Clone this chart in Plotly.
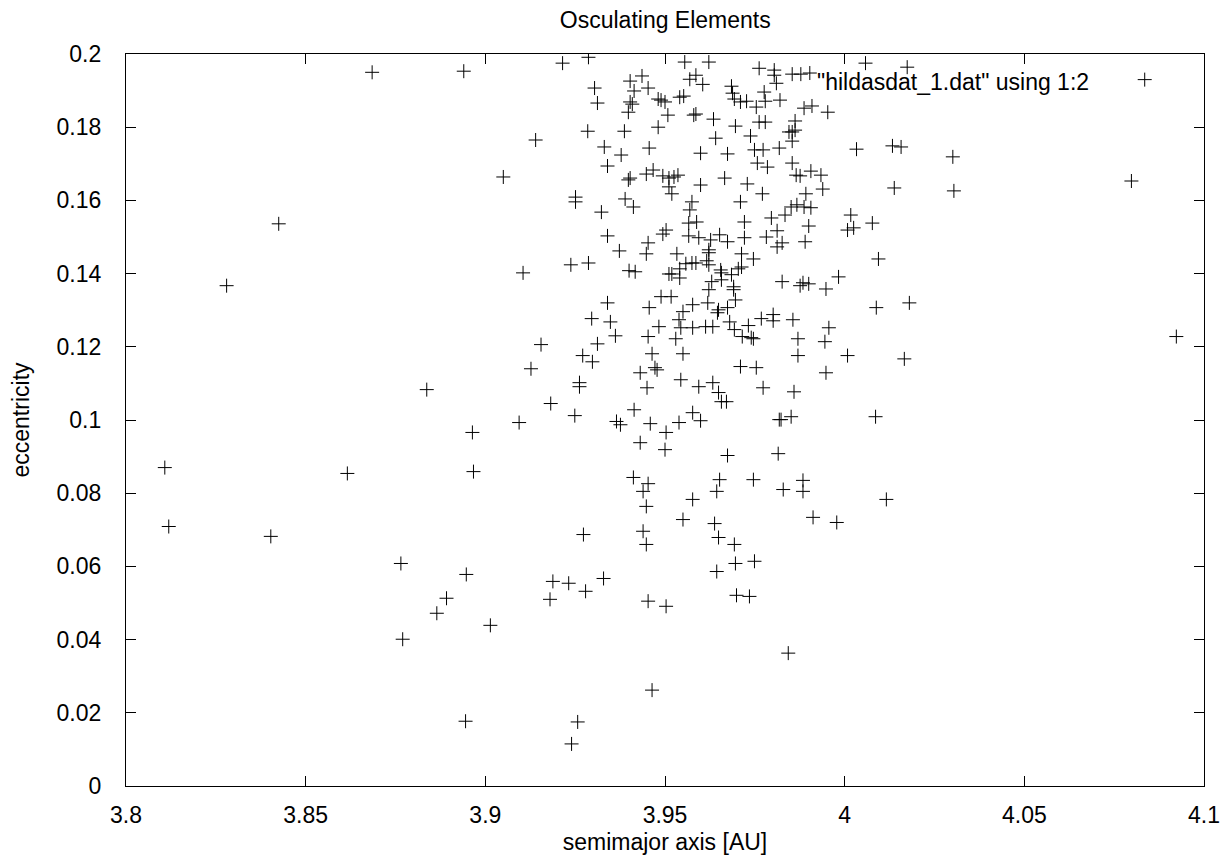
import plotly.graph_objects as go

# Hilda-group asteroids: osculating semimajor axis [AU] and eccentricity
semimajor_axis = [
    3.8685, 3.8940, 3.9140, 3.9050, 3.8425, 3.8280, 3.9105, 3.9155, 3.9127, 3.8837,
    3.9094, 3.8964, 3.8108, 3.8119, 3.8403, 3.8616, 3.8967, 3.8765, 3.8770, 3.8947,
    3.8892, 3.8865, 3.9014, 3.8945,
    3.9215, 3.9287, 3.9555, 3.9436, 3.9403, 3.9304, 3.9414, 3.9453, 3.9569, 3.9312,
    3.9403, 3.9409, 3.9398, 3.9481, 3.9489, 3.9500, 3.9541, 3.9552, 3.9508, 3.9580,
    3.9285, 3.9387, 3.9481, 3.9331, 3.9378, 3.9456, 3.9340, 3.9398, 3.9403, 3.9448,
    3.9467, 3.9494, 3.9511, 3.9525, 3.9536, 3.9511, 3.9519, 3.9251, 3.9251, 3.9389,
    3.9412, 3.9323, 3.9575, 3.9569, 3.9566, 3.9340, 3.9503, 3.9494, 3.9566, 3.9453,
    3.9622, 3.9762, 3.9804, 3.9804, 3.9810, 3.9854, 3.9878, 3.9903, 3.9586, 3.9605,
    3.9685, 3.9776, 3.9688, 3.9693, 3.9710, 3.9727, 3.9754, 3.9779, 3.9820, 3.9887,
    3.9909, 3.9953, 3.9586, 3.9635, 3.9696, 3.9762, 3.9779, 3.9862, 3.9845, 3.9854,
    3.9862, 3.9641, 3.9738, 3.9854, 3.9818, 3.9599, 3.9674, 3.9749, 3.9773, 3.9757,
    3.9785, 3.9854, 3.9865, 3.9876, 3.9906, 3.9934, 3.9666, 3.9729, 3.9599, 3.9771,
    3.9892, 3.9939, 3.9710, 3.9851, 3.9867, 3.9887, 3.9906, 3.9834, 3.9796, 4.0017,
    3.9588, 3.9721, 3.9900, 4.0008, 3.9782, 3.9812, 3.9594, 3.9627, 3.9652, 3.9674,
    3.9721, 3.9826, 3.9890,
    3.9373, 3.9448, 3.9533, 3.9238, 3.9287, 3.9400, 3.9417, 3.9511, 3.9519, 3.9541,
    3.9558, 3.9575, 3.9541, 3.9489, 3.9517, 3.9340, 3.9456, 3.9577, 3.9550, 3.9296,
    3.9348, 3.9539, 3.9544, 3.9577, 3.9483, 3.9530, 3.9453, 3.9362, 3.9312, 3.9464,
    3.9550, 3.9271, 3.9298, 3.9431, 3.9472, 3.9478, 3.9544, 3.9262, 3.9262, 3.9450,
    3.9182, 3.9414, 3.9249, 3.9365, 3.9376, 3.9459, 3.9539, 3.9503, 3.9577,
    3.9812, 3.9622, 3.9622, 3.9713, 3.9746, 3.9586, 3.9616, 3.9622, 3.9655, 3.9657,
    3.9704, 3.9713, 3.9685, 3.9630, 3.9657, 3.9622, 3.9691, 3.9691, 3.9696, 3.9826,
    3.9876, 3.9884, 3.9900, 3.9948, 3.9983, 3.9619, 3.9649, 3.9646, 3.9674, 3.9680,
    3.9693, 3.9732, 3.9715, 3.9740, 3.9746, 3.9768, 3.9801, 3.9801, 3.9856, 3.9956,
    3.9870, 3.9945, 3.9870, 4.0008, 3.9613, 3.9633, 3.9710, 3.9754, 3.9948, 3.9594,
    3.9633, 3.9773, 3.9859, 3.9649, 3.9657, 3.9671, 3.9599, 3.9818, 3.9823, 3.9851,
    3.9431, 3.9500, 3.9412, 3.9453, 3.9439, 3.9448, 3.9577, 3.9550, 3.9273, 3.9439,
    3.9448, 3.9188, 3.9232, 3.9329, 3.9279, 3.9180, 3.9453, 3.9503,
    3.9674, 3.9815, 3.9652, 3.9746, 3.9884, 3.9884, 3.9829, 3.9644, 3.9912, 3.9978,
    3.9638, 3.9649, 3.9693, 3.9696, 3.9749, 3.9644, 3.9699, 3.9735,
    3.9843, 3.9464, 3.9257, 3.9240,
    4.0058, 4.0174, 4.0033, 4.0133, 4.0157, 4.0301, 4.0138, 4.0304, 4.0798, 4.0025,
    4.0077, 4.0094, 4.0088, 4.0180, 4.0166, 4.0086, 4.0923, 4.0116,
]

eccentricity = [
    0.1950, 0.1953, 0.1765, 0.1664, 0.1536, 0.1367, 0.1402, 0.1206, 0.1140, 0.1083,
    0.0993, 0.0966, 0.0870, 0.0709, 0.0682, 0.0854, 0.0859, 0.0608, 0.0401, 0.0578,
    0.0513, 0.0472, 0.0439, 0.0177,
    0.1975, 0.1991, 0.1978, 0.1940, 0.1926, 0.1907, 0.1899, 0.1907, 0.1931, 0.1866,
    0.1869, 0.1863, 0.1841, 0.1877, 0.1874, 0.1869, 0.1882, 0.1885, 0.1833, 0.1833,
    0.1789, 0.1789, 0.1800, 0.1746, 0.1724, 0.1743, 0.1694, 0.1656, 0.1661, 0.1672,
    0.1683, 0.1667, 0.1661, 0.1664, 0.1669, 0.1637, 0.1618, 0.1609, 0.1596, 0.1604,
    0.1582, 0.1568, 0.1596, 0.1574, 0.1538, 0.1503, 0.1519, 0.1508, 0.1503, 0.1484,
    0.1978, 0.1961, 0.1956, 0.1942, 0.1920, 0.1945, 0.1945, 0.1948, 0.1942, 0.1917,
    0.1912, 0.1896, 0.1893, 0.1877, 0.1869, 0.1871, 0.1855, 0.1871, 0.1874, 0.1852,
    0.1858, 0.1841, 0.1836, 0.1822, 0.1803, 0.1814, 0.1814, 0.1817, 0.1787, 0.1787,
    0.1792, 0.1770, 0.1776, 0.1762, 0.1743, 0.1729, 0.1727, 0.1738, 0.1738, 0.1702,
    0.1691, 0.1702, 0.1669, 0.1667, 0.1680, 0.1669, 0.1661, 0.1645, 0.1642, 0.1618,
    0.1618, 0.1631, 0.1596, 0.1582, 0.1588, 0.1582, 0.1580, 0.1560, 0.1552, 0.1560,
    0.1541, 0.1541, 0.1530, 0.1519, 0.1500, 0.1517, 0.1498, 0.1492, 0.1506, 0.1487,
    0.1498, 0.1484, 0.1487,
    0.1462, 0.1454, 0.1454, 0.1424, 0.1429, 0.1408, 0.1405, 0.1399, 0.1399, 0.1413,
    0.1427, 0.1429, 0.1388, 0.1337, 0.1337, 0.1320, 0.1307, 0.1315, 0.1296, 0.1277,
    0.1268, 0.1274, 0.1252, 0.1252, 0.1255, 0.1222, 0.1228, 0.1230, 0.1208, 0.1181,
    0.1181, 0.1176, 0.1159, 0.1129, 0.1143, 0.1137, 0.1110, 0.1102, 0.1091, 0.1088,
    0.1045, 0.1028, 0.1012, 0.0996, 0.0987, 0.0990, 0.0993, 0.0966, 0.1020,
    0.1473, 0.1465, 0.1457, 0.1454, 0.1440, 0.1429, 0.1435, 0.1424, 0.1410, 0.1402,
    0.1413, 0.1418, 0.1397, 0.1378, 0.1383, 0.1356, 0.1364, 0.1356, 0.1328, 0.1378,
    0.1367, 0.1375, 0.1372, 0.1358, 0.1391, 0.1320, 0.1301, 0.1293, 0.1307, 0.1268,
    0.1247, 0.1258, 0.1228, 0.1225, 0.1222, 0.1277, 0.1288, 0.1271, 0.1274, 0.1252,
    0.1222, 0.1214, 0.1176, 0.1176, 0.1255, 0.1255, 0.1146, 0.1143, 0.1129, 0.1091,
    0.1102, 0.1088, 0.1077, 0.1075, 0.1050, 0.1050, 0.0998, 0.1001, 0.1001, 0.1009,
    0.0938, 0.0919, 0.0843, 0.0826, 0.0805, 0.0764, 0.0783, 0.0728, 0.0687, 0.0696,
    0.0660, 0.0559, 0.0554, 0.0567, 0.0532, 0.0510, 0.0505, 0.0491,
    0.0903, 0.0908, 0.0837, 0.0837, 0.0835, 0.0805, 0.0810, 0.0805, 0.0734, 0.0720,
    0.0717, 0.0679, 0.0660, 0.0608, 0.0614, 0.0586, 0.0521, 0.0518,
    0.0363, 0.0262, 0.0175, 0.0115,
    0.1975, 0.1964, 0.1740, 0.1749, 0.1746, 0.1719, 0.1634, 0.1626, 0.1653, 0.1525,
    0.1538, 0.1440, 0.1307, 0.1320, 0.1167, 0.1009, 0.1228, 0.0783,
]

x_ticks = [3.8, 3.85, 3.9, 3.95, 4.0, 4.05, 4.1]
x_tick_text = ["3.8", "3.85", "3.9", "3.95", "4", "4.05", "4.1"]
y_ticks = [0, 0.02, 0.04, 0.06, 0.08, 0.1, 0.12, 0.14, 0.16, 0.18, 0.2]
y_tick_text = ["0", "0.02", "0.04", "0.06", "0.08", "0.1", "0.12", "0.14", "0.16", "0.18", "0.2"]

series_label = '"hildasdat_1.dat" using 1:2'

FONT = "Liberation Sans, Arial, Helvetica, sans-serif"
FSIZE = 23
cross = dict(symbol="cross-thin", size=10, color="black",
             line=dict(color="black", width=1))

fig = go.Figure()
fig.add_trace(go.Scatter(
    x=semimajor_axis, y=eccentricity, mode="markers",
    marker=cross, showlegend=False, hoverinfo="x+y",
))

# key sample point, placed on a hidden unit-range overlay
fig.add_trace(go.Scatter(
    x=[0.945], y=[0.965], mode="markers", marker=cross,
    xaxis="x2", yaxis="y2", showlegend=False, hoverinfo="skip",
))

axis_common = dict(
    showline=True, linecolor="black", linewidth=1.3, mirror="ticks",
    ticks="inside", ticklen=10, tickwidth=1.3, tickcolor="black",
    showgrid=False, zeroline=False,
    tickfont=dict(family=FONT, size=FSIZE, color="black"),
)

fig.update_layout(
    width=1232, height=863,
    paper_bgcolor="white", plot_bgcolor="white",
    margin=dict(l=126, r=20, t=54, b=76),
    title=dict(text="Osculating Elements", x=0.54, xanchor="center",
               y=0.977, yanchor="middle",
               font=dict(family=FONT, size=FSIZE, color="black")),
    xaxis=dict(range=[3.8, 4.1], tickvals=x_ticks, ticktext=x_tick_text,
               ticklabelstandoff=8,
               title=dict(text="semimajor axis [AU]", standoff=7,
                          font=dict(family=FONT, size=FSIZE, color="black")),
               **axis_common),
    yaxis=dict(range=[0, 0.2], tickvals=y_ticks, ticktext=y_tick_text,
               ticklabelstandoff=19,
               title=dict(text="eccentricity", standoff=20,
                          font=dict(family=FONT, size=FSIZE, color="black")),
               **axis_common),
    xaxis2=dict(range=[0, 1], overlaying="x", visible=False),
    yaxis2=dict(range=[0, 1], overlaying="y", visible=False),
    annotations=[dict(
        text=series_label, xref="paper", yref="paper",
        x=0.895, y=0.962, xanchor="right", yanchor="middle",
        showarrow=False, font=dict(family=FONT, size=FSIZE, color="black"),
    )],
)

fig.write_html("out.html")
